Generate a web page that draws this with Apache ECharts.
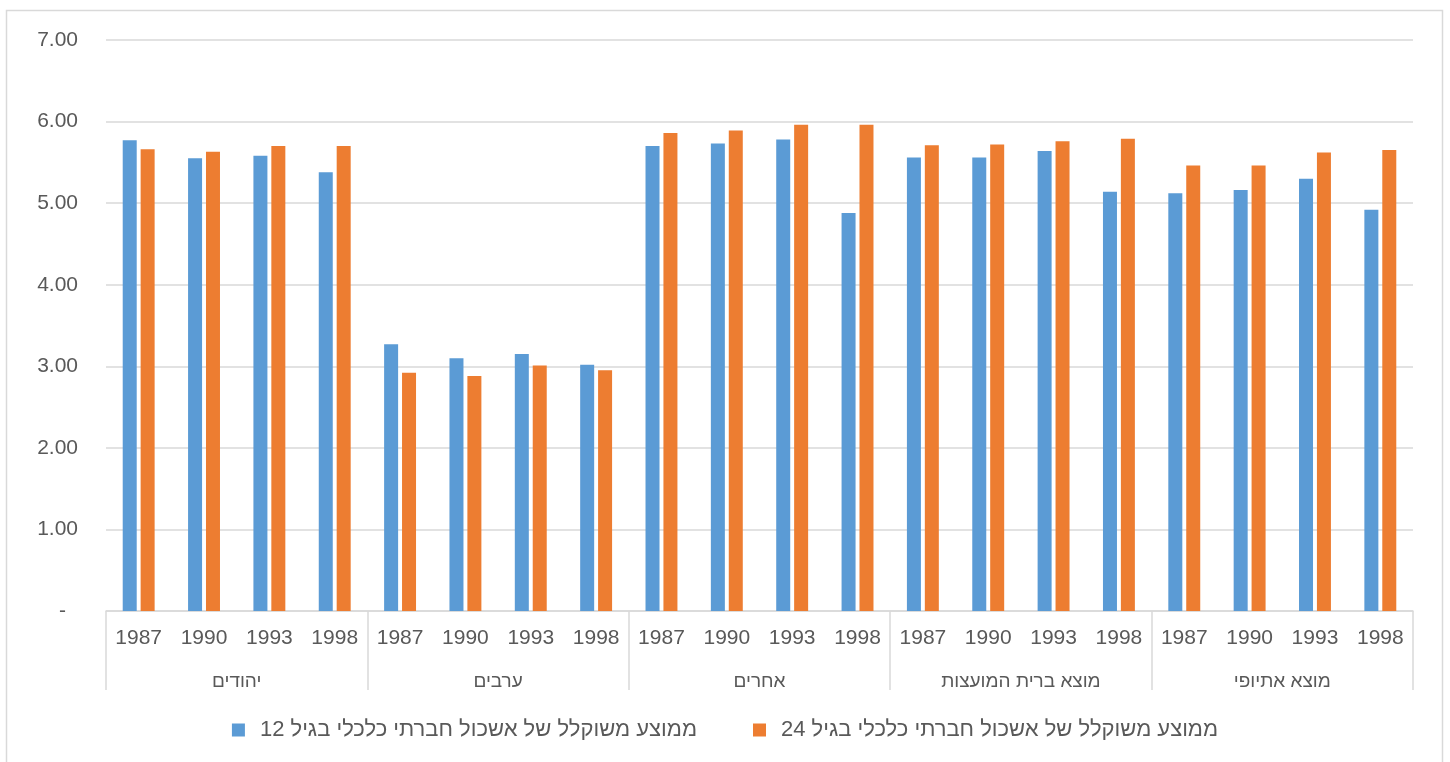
<!DOCTYPE html>
<html>
<head>
<meta charset="utf-8">
<script src="https://cdn.jsdelivr.net/npm/echarts@6/dist/echarts.min.js"></script>
<style>
  html, body { margin: 0; padding: 0; background: #ffffff; }
  #chart { width: 1450px; height: 762px; }
</style>
</head>
<body>
<div id="chart"></div>
<script>
// Population groups (outer axis level) and survey years (inner axis level)
const groups = ['יהודים', 'ערבים', 'אחרים', 'מוצא ברית המועצות', 'מוצא אתיופי'];
const years = ['1987', '1990', '1993', '1998'];

// Weighted mean of socio-economic cluster, per group and year
const age12 = [
  5.77, 5.55, 5.58, 5.38,
  3.27, 3.10, 3.15, 3.02,
  5.70, 5.73, 5.78, 4.88,
  5.56, 5.56, 5.64, 5.14,
  5.12, 5.16, 5.30, 4.92
];
const age24 = [
  5.66, 5.63, 5.70, 5.70,
  2.92, 2.88, 3.01, 2.95,
  5.86, 5.89, 5.96, 5.96,
  5.71, 5.72, 5.76, 5.79,
  5.46, 5.46, 5.62, 5.65
];

const seriesNames = [
  'ממוצע משוקלל של אשכול חברתי כלכלי בגיל 12',
  'ממוצע משוקלל של אשכול חברתי כלכלי בגיל 24'
];

const yTicks = { min: 0, max: 7, interval: 1 };

// One inner-axis category per (group, year) pair
const categories = [];
groups.forEach(() => years.forEach(y => categories.push(y)));

const FONT = '"Liberation Sans", Arial, "DejaVu Sans", sans-serif';
const TEXT = '#595959';
const LINE = '#d9d9d9';

const chart = echarts.init(document.getElementById('chart'), null, { renderer: 'canvas' });

chart.setOption({
  animation: false,
  backgroundColor: '#ffffff',
  textStyle: { fontFamily: FONT },
  graphic: [{
    type: 'rect',
    silent: true,
    shape: { x: 6.5, y: 10.5, width: 1436, height: 800 },
    style: { fill: 'none', stroke: LINE, lineWidth: 1.5 }
  }],
  grid: { left: 106, right: 37, top: 40, bottom: 151, containLabel: false },
  legend: {
    data: seriesNames,
    left: 'center',
    top: 714,
    icon: 'rect',
    itemWidth: 13,
    itemHeight: 13,
    itemGap: 56,
    textStyle: { fontFamily: FONT, fontSize: 22, color: TEXT, padding: [0, 0, 0, 10] }
  },
  xAxis: [
    {
      type: 'category',
      position: 'bottom',
      data: categories,
      axisLine: { show: true, lineStyle: { color: LINE, width: 1.5 } },
      axisTick: { show: false },
      axisLabel: { interval: 0, margin: 17, fontFamily: FONT, fontSize: 21, color: TEXT }
    },
    {
      type: 'category',
      position: 'bottom',
      offset: 0,
      data: groups,
      axisLine: { show: false },
      axisTick: { show: true, length: 79, lineStyle: { color: LINE, width: 1.5 } },
      axisLabel: { interval: 0, margin: 61, fontFamily: FONT, fontSize: 19, color: TEXT },
      splitLine: { show: false }
    }
  ],
  yAxis: {
    type: 'value',
    min: yTicks.min,
    max: yTicks.max,
    interval: yTicks.interval,
    axisLine: { show: false },
    axisTick: { show: false },
    splitLine: { lineStyle: { color: LINE, width: 1.5 } },
    axisLabel: {
      margin: 28,
      fontFamily: FONT,
      fontSize: 21,
      color: TEXT,
      formatter: v => (v === 0 ? '{d|-}' : v.toFixed(2)),
      rich: { d: { fontFamily: FONT, fontSize: 21, color: TEXT, padding: [0, 12, 0, 0] } }
    }
  },
  series: [
    {
      name: seriesNames[0],
      type: 'bar',
      xAxisIndex: 0,
      data: age12,
      barWidth: 14,
      barGap: '28%',
      itemStyle: { color: '#5b9bd5' }
    },
    {
      name: seriesNames[1],
      type: 'bar',
      xAxisIndex: 0,
      data: age24,
      barWidth: 14,
      itemStyle: { color: '#ed7d31' }
    }
  ]
});
</script>
</body>
</html>
